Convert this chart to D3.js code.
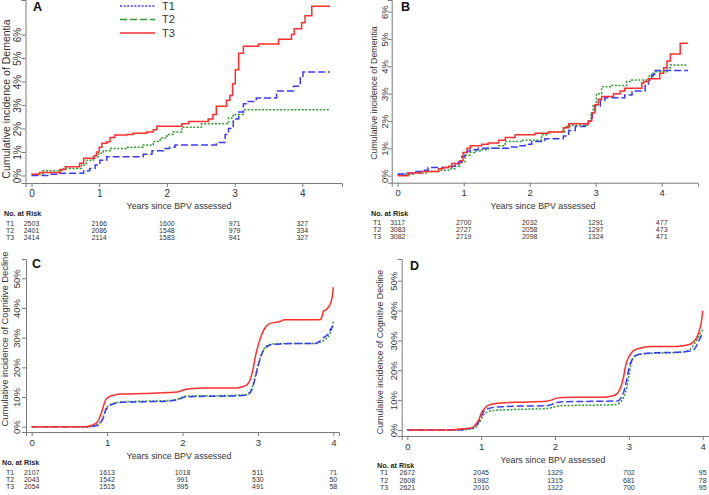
<!DOCTYPE html>
<html><head><meta charset="utf-8">
<script src="https://cdn.jsdelivr.net/npm/d3@7"></script>
<style>
html,body{margin:0;padding:0;background:#fff;}
svg{display:block;font-family:"Liberation Sans",Arial,sans-serif;}
</style></head>
<body>
<svg id="chart" width="709" height="495"></svg>
<script>
// ---------- DATA ----------
const groups = ["T1", "T2", "T3"];
const xTickValues = [0, 1, 2, 3, 4];
const yTicksDementia = [0, 1, 2, 3, 4, 5, 6];
const yTicksCognitive = [0, 10, 20, 30, 40, 50];

// Panel A: cumulative incidence of dementia (%), [years, %]
const A_T1 = [[0,0],[0.27,0.05],[0.42,0.1],[0.77,0.2],[0.86,0.3],[0.94,0.45],[1.01,0.65],[1.11,0.8],[1.65,0.9],[1.78,1.05],[1.95,1.15],[2.04,1.2],[2.12,1.3],[2.73,1.4],[2.86,1.75],[2.91,2.0],[2.98,2.4],[3.06,2.7],[3.13,3.05],[3.2,3.15],[3.32,3.3],[3.62,3.6],[3.87,3.8],[3.97,4.15],[4.01,4.4],[4.41,4.4]];
const A_T2 = [[0,0.05],[0.17,0.2],[0.47,0.3],[0.74,0.45],[0.81,0.65],[0.91,0.8],[0.99,0.95],[1.06,1.05],[1.16,1.15],[1.4,1.2],[1.65,1.3],[1.8,1.45],[1.9,1.6],[2.0,1.75],[2.09,1.85],[2.22,2.05],[2.51,2.2],[2.91,2.45],[2.98,2.6],[3.13,2.8],[4.41,2.8]];
const A_T3 = [[0,0.05],[0.12,0.13],[0.42,0.26],[0.5,0.37],[0.71,0.52],[0.77,0.73],[0.93,0.85],[0.96,1.0],[1.0,1.2],[1.04,1.37],[1.11,1.44],[1.16,1.62],[1.23,1.72],[1.41,1.75],[1.5,1.8],[1.7,1.85],[1.8,1.95],[1.85,2.1],[2.22,2.2],[2.32,2.3],[2.61,2.4],[2.68,2.6],[2.73,2.95],[2.88,3.2],[2.93,3.4],[2.97,3.9],[3.01,4.5],[3.06,5.2],[3.13,5.5],[3.35,5.6],[3.65,5.8],[3.84,6.0],[3.88,6.25],[3.99,6.5],[4.04,6.8],[4.14,7.2],[4.41,7.2]];

// Panel B
const B_T1 = [[0,0.06],[0.11,0.1],[0.26,0.15],[0.36,0.2],[0.46,0.3],[0.82,0.35],[0.87,0.4],[0.92,0.5],[0.97,0.7],[1.02,0.85],[1.05,0.9],[1.1,0.95],[1.22,1.0],[1.68,1.05],[1.83,1.1],[1.93,1.15],[2.03,1.25],[2.23,1.35],[2.51,1.45],[2.59,1.65],[2.69,1.8],[2.84,1.85],[2.89,2.0],[2.95,2.3],[2.99,2.55],[3.07,2.75],[3.14,2.85],[3.44,2.95],[3.55,3.1],[3.75,3.3],[3.8,3.5],[3.85,3.7],[3.9,3.85],[4.4,3.85]];
const B_T2 = [[0,0.05],[0.26,0.1],[0.46,0.15],[0.62,0.2],[0.77,0.25],[0.87,0.35],[0.94,0.5],[1.02,0.75],[1.1,0.85],[1.17,0.9],[1.27,0.95],[1.37,1.0],[1.53,1.1],[1.63,1.25],[1.88,1.3],[2.18,1.5],[2.28,1.6],[2.53,1.8],[2.61,1.85],[2.89,2.0],[2.93,2.3],[2.96,2.6],[3.01,3.0],[3.09,3.25],[3.24,3.3],[3.47,3.45],[3.52,3.5],[3.8,3.65],[3.87,3.75],[3.9,3.8],[4.08,3.95],[4.13,4.05],[4.4,4.05]];
const B_T3 = [[0,0.0],[0.16,0.1],[0.36,0.15],[0.62,0.25],[0.69,0.3],[0.77,0.35],[0.82,0.45],[0.94,0.55],[0.99,0.85],[1.05,1.0],[1.1,1.1],[1.27,1.15],[1.37,1.2],[1.53,1.3],[1.63,1.4],[1.78,1.5],[2.08,1.55],[2.28,1.6],[2.51,1.75],[2.59,1.9],[2.89,2.0],[2.94,2.3],[2.99,2.6],[3.04,2.8],[3.09,2.9],[3.27,3.0],[3.37,3.1],[3.44,3.2],[3.7,3.4],[3.73,3.45],[3.8,3.55],[3.97,3.75],[4.03,3.95],[4.08,4.2],[4.13,4.45],[4.28,4.85],[4.4,4.85]];

// Panel C: cumulative incidence of cognitive decline (%)
const C_T1 = [[0,0],[0.75,0],[0.85,0.3],[0.9,1],[0.95,3],[0.98,5.5],[1.03,7],[1.1,7.8],[1.2,8.2],[1.5,8.4],[1.8,8.6],[1.95,9.2],[2.03,10],[2.2,10.2],[2.6,10.3],[2.85,10.6],[2.88,11],[2.92,12.5],[2.95,15],[2.98,18],[3.02,22],[3.06,25],[3.1,26.5],[3.17,27.6],[3.3,27.9],[3.5,28],[3.75,28],[3.8,28.5],[3.86,29.8],[3.9,30.5],[3.94,31.5],[3.97,33],[4.0,34]];
const C_T2 = [[0,0],[0.75,0],[0.85,0.4],[0.9,1.2],[0.95,3.3],[0.98,5.8],[1.03,7.3],[1.1,8.0],[1.2,8.4],[1.5,8.6],[1.8,8.8],[1.95,9.4],[2.03,10.2],[2.2,10.4],[2.6,10.5],[2.85,10.8],[2.88,11.3],[2.92,13],[2.95,15.5],[2.98,18.5],[3.02,22.5],[3.06,25.3],[3.1,26.8],[3.17,27.8],[3.3,28.0],[3.5,28],[3.75,28],[3.8,28.2],[3.86,28.8],[3.9,29.5],[3.95,31],[3.98,33],[4.0,35.5]];
const C_T3 = [[0,0],[0.7,0],[0.8,0.5],[0.87,1.5],[0.9,3],[0.94,6],[0.98,9],[1.02,10],[1.1,10.7],[1.2,11],[1.5,11.2],[1.8,11.5],[1.93,11.7],[2.0,12.3],[2.1,12.8],[2.3,13],[2.7,13],[2.77,13.3],[2.85,14],[2.9,16],[2.94,20],[2.97,24],[3.01,28],[3.05,31],[3.1,33.5],[3.16,34.8],[3.25,35.2],[3.3,35.5],[3.35,36],[3.82,36],[3.85,37],[3.87,39],[3.9,39.3],[3.94,40.5],[3.97,42],[3.99,44.5],[4.0,47]];

// Panel D
const D_T1 = [[0,0],[0.7,0],[0.8,0.3],[0.9,0.8],[0.95,2],[0.99,4],[1.03,6],[1.08,7],[1.15,7.5],[1.3,7.8],[1.5,8],[1.88,8.1],[1.95,8.5],[2.03,9.2],[2.15,9.5],[2.5,9.6],[2.85,9.7],[2.88,10.3],[2.92,12],[2.95,14.5],[2.98,18],[3.01,21.5],[3.05,23.8],[3.1,25],[3.2,25.6],[3.4,25.9],[3.6,26],[3.75,26.2],[3.85,26.5],[3.9,27.5],[3.93,29],[3.97,31],[4.0,32.5]];
const D_T2 = [[0,0],[0.7,0],[0.85,0.3],[0.92,0.8],[0.96,2],[1.0,3.5],[1.03,5],[1.08,6],[1.15,6.5],[1.3,6.7],[1.5,6.9],[1.9,7.2],[2.0,7.8],[2.1,8.2],[2.5,8.3],[2.82,8.5],[2.88,9.2],[2.93,11],[2.97,14],[3.0,18],[3.03,22],[3.07,24.5],[3.13,25.3],[3.2,25.5],[3.5,25.8],[3.7,26],[3.8,26.5],[3.85,27.5],[3.89,29],[3.93,30.5],[3.96,32],[4.0,33.5]];
const D_T3 = [[0,0],[0.6,0],[0.7,0.3],[0.8,0.5],[0.88,0.8],[0.93,2],[0.97,3.5],[1.0,5.5],[1.04,7],[1.08,8],[1.15,8.7],[1.3,9.1],[1.5,9.3],[1.88,9.6],[1.95,10],[2.0,10.5],[2.1,10.9],[2.3,11],[2.65,11],[2.75,11.3],[2.82,11.8],[2.86,12.8],[2.9,15],[2.93,18],[2.96,22],[3.0,24.5],[3.05,26.3],[3.12,27.2],[3.2,27.7],[3.3,28],[3.65,28],[3.75,28.3],[3.83,28.7],[3.88,29.7],[3.92,31],[3.95,33],[3.98,36],[4.0,40]];

// Numbers at risk
const riskA_T1 = [2503, 2166, 1600, 971, 327];
const riskA_T2 = [2401, 2086, 1548, 979, 334];
const riskA_T3 = [2414, 2114, 1583, 941, 327];
const riskB_T1 = [3117, 2700, 2032, 1291, 477];
const riskB_T2 = [3083, 2727, 2058, 1297, 473];
const riskB_T3 = [3082, 2719, 2098, 1324, 471];
const riskC_T1 = [2107, 1613, 1018, 511, 71];
const riskC_T2 = [2043, 1542, 991, 530, 50];
const riskC_T3 = [2054, 1515, 995, 491, 58];
const riskD_T1 = [2672, 2045, 1329, 702, 95];
const riskD_T2 = [2608, 1982, 1315, 681, 78];
const riskD_T3 = [2621, 2010, 1322, 700, 95];

// ---------- STYLE / LAYOUT ----------
const colors = {T1: "#3a3aff", T2: "#2f9a2f", T3: "#ff2e2e"};
const plotDash = {T1: "7,3", T2: "2,1.6", T3: null};
const legendDash = {T1: "2,1.6", T2: "7,3", T3: null};
const axisColor = "#7a7a7a";
const textColor = "#333";

const panels = [
  {letter:"A", series:{T1:A_T1,T2:A_T2,T3:A_T3}, risk:{T1:riskA_T1,T2:riskA_T2,T3:riskA_T3},
   step:true, yTicks:yTicksDementia, yTitle:"Cumulative incidence of Dementia",
   x0:31.5, x4:302.3, axL:25.5, axR:342, yv:[0,6], yp:[175.5,34.5], axTop:0, axBot:183,
   letterPos:[33,11], yTitleX:6.5, yTitleY:99, yTitleSize:10.5, tickSize:10, yLabOff:-8.5,
   xTitleX:179, xTitleY:209, noRiskX:4, noRiskY:216, rowY:[225.8,233,240.2], tX:6, legend:true},
  {letter:"B", series:{T1:B_T1,T2:B_T2,T3:B_T3}, risk:{T1:riskB_T1,T2:riskB_T2,T3:riskB_T3},
   step:true, yTicks:yTicksDementia, yTitle:"Cumulative incidence of Dementia",
   x0:397.7, x4:661.7, axL:391.7, axR:698, yv:[0,6], yp:[175.7,11.7], axTop:0, axBot:182.7,
   letterPos:[401,11], yTitleX:373.5, yTitleY:93, yTitleSize:8.8, tickSize:9.5, yLabOff:-7,
   xTitleX:543, xTitleY:208.5, noRiskX:371, noRiskY:215.5, rowY:[225,232.2,239.4], tX:373},
  {letter:"C", series:{T1:C_T1,T2:C_T2,T3:C_T3}, risk:{T1:riskC_T1,T2:riskC_T2,T3:riskC_T3},
   step:false, yTicks:yTicksCognitive, yTitle:"Cumulative incidence of Cognitive Decline",
   x0:31.7, x4:333.3, axL:26, axR:339, yv:[0,50], yp:[426.7,278.3], axTop:259, axBot:432,
   letterPos:[32,268], yTitleX:4.5, yTitleY:339, yTitleSize:9.4, tickSize:9.5, yLabOff:-9.5,
   xTitleX:179, xTitleY:459, noRiskX:2, noRiskY:465, rowY:[474.5,481.5,488.5], tX:6},
  {letter:"D", series:{T1:D_T1,T2:D_T2,T3:D_T3}, risk:{T1:riskD_T1,T2:riskD_T2,T3:riskD_T3},
   step:false, yTicks:yTicksCognitive, yTitle:"Cumulative incidence of Cognitive Decline",
   x0:407.3, x4:702.7, axL:401.7, axR:709, yv:[0,50], yp:[430,280.7], axTop:259, axBot:436,
   letterPos:[410,270], yTitleX:380, yTitleY:352, yTitleSize:8.8, tickSize:9.5, yLabOff:-8.5,
   xTitleX:553, xTitleY:463, noRiskX:377, noRiskY:468, rowY:[475,482.5,490], tX:380}
];

const svg = d3.select("#chart");

panels.forEach(p => {
  const g = svg.append("g");
  const xs = d3.scaleLinear().domain([0, 4]).range([p.x0, p.x4]);
  const ys = d3.scaleLinear().domain(p.yv).range(p.yp);
  const xAxisScale = d3.scaleLinear().domain([xs.invert(p.axL), xs.invert(p.axR)]).range([p.axL, p.axR]);
  const yAxisScale = d3.scaleLinear().domain([ys.invert(p.axBot), ys.invert(p.axTop)]).range([p.axBot, p.axTop]);

  // X axis
  const xa = g.append("g").attr("transform", `translate(0,${p.axBot})`)
    .call(d3.axisBottom(xAxisScale).tickValues(xTickValues).tickFormat(d3.format("d")).tickSizeOuter(0).tickSize(4).tickPadding(3));
  xa.select(".domain").attr("stroke", axisColor);
  xa.selectAll(".tick line").attr("stroke", axisColor);
  xa.selectAll(".tick text").attr("fill", textColor).style("font-size", p.tickSize + "px").style("font-family", "Liberation Sans, Arial, sans-serif");

  // Y axis with rotated labels
  const ya = g.append("g").attr("transform", `translate(${p.axL},0)`)
    .call(d3.axisLeft(yAxisScale).tickValues(p.yTicks).tickFormat(d => d + "%").tickSizeOuter(0).tickSize(4));
  ya.select(".domain").attr("stroke", axisColor);
  ya.selectAll(".tick line").attr("stroke", axisColor);
  ya.selectAll(".tick text").attr("fill", textColor)
    .style("font-size", p.tickSize + "px").style("font-family", "Liberation Sans, Arial, sans-serif")
    .attr("x", 0).attr("dy", "0.35em").attr("text-anchor", "middle")
    .attr("transform", `translate(${p.yLabOff},0) rotate(-90)`);

  // Y title
  g.append("text").attr("transform", `translate(${p.yTitleX},${p.yTitleY}) rotate(-90)`)
    .attr("text-anchor", "middle").attr("dy", "0.35em").attr("fill", textColor)
    .style("font-size", p.yTitleSize + "px").text(p.yTitle);

  // Panel letter
  g.append("text").attr("x", p.letterPos[0]).attr("y", p.letterPos[1]).attr("font-weight", "bold")
    .attr("fill", "#111").style("font-size", "12.5px").text(p.letter);

  // Lines
  const line = d3.line().x(d => xs(d[0])).y(d => ys(d[1]))
    .curve(p.step ? d3.curveStepAfter : d3.curveMonotoneX);
  ["T2", "T1", "T3"].forEach(k => {
    g.append("path").datum(p.series[k]).attr("d", line)
      .attr("fill", "none").attr("stroke", colors[k]).attr("stroke-width", 1.5)
      .attr("stroke-dasharray", plotDash[k]);
  });

  // X title
  g.append("text").attr("x", p.xTitleX).attr("y", p.xTitleY).attr("text-anchor", "middle")
    .attr("fill", textColor).style("font-size", "8.8px").text("Years since BPV assessed");

  // Risk table
  g.append("text").attr("x", p.noRiskX).attr("y", p.noRiskY).attr("font-weight", "bold")
    .attr("fill", "#222").style("font-size", "7.2px").text("No. at Risk");
  groups.forEach((k, i) => {
    g.append("text").attr("x", p.tX).attr("y", p.rowY[i]).attr("fill", textColor)
      .style("font-size", "7px").text(k);
    g.selectAll(null).data(p.risk[k]).enter().append("text")
      .attr("x", (d, j) => xs(xTickValues[j])).attr("y", p.rowY[i]).attr("text-anchor", "middle")
      .attr("fill", textColor).style("font-size", "7px").text(d => d);
  });

  // Legend
  if (p.legend) {
    const ly = [6, 19.5, 33];
    groups.forEach((k, i) => {
      g.append("line").attr("x1", 120).attr("x2", 155).attr("y1", ly[i]).attr("y2", ly[i])
        .attr("stroke", colors[k]).attr("stroke-width", 1.5).attr("stroke-dasharray", legendDash[k]);
      g.append("text").attr("x", 162).attr("y", ly[i]).attr("dy", "0.35em").attr("fill", textColor)
        .style("font-size", "11px").text(k);
    });
  }
});
</script>
</body></html>
